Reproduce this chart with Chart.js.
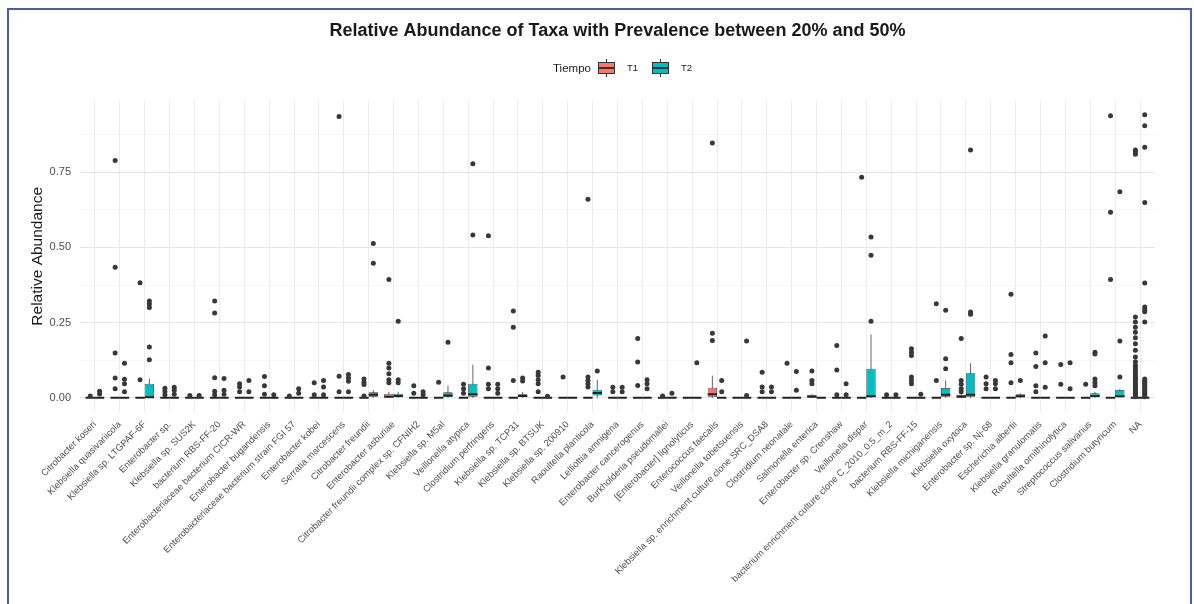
<!DOCTYPE html>
<html>
<head>
  <meta charset="utf-8">
  <title>Relative Abundance of Taxa</title>
  <style>
    body {
      margin: 0;
      background: #fff;
      overflow: hidden;
      font-family: "Liberation Sans", Arial, sans-serif;
    }

    .wrap {
      position: relative;
      width: 1194px;
      height: 604px;
    }

    canvas {
      position: absolute;
      left: 0;
      top: 0;
    }

    .frame {
      position: absolute;
      left: 7px;
      top: 8px;
      width: 1185px;
      height: 700px;
      box-sizing: border-box;
      border: 2px solid #4a5dab;
      pointer-events: none;
    }

    .legend-title {
      position: absolute;
      left: 553px;
      top: 62px;
      font-size: 11.5px;
      line-height: 13px;
      color: #1a1a1a;
    }

    .legend-label {
      position: absolute;
      top: 62px;
      font-size: 9.5px;
      line-height: 12px;
      color: #1a1a1a;
    }

    .key {
      position: absolute;
      top: 59px;
      width: 19px;
      height: 18px;
    }

    .key .whisker {
      position: absolute;
      left: 9px;
      top: 0;
      width: 1px;
      height: 18px;
      background: #333;
    }

    .key .box {
      position: absolute;
      left: 1px;
      top: 3px;
      width: 17px;
      height: 12px;
      box-sizing: border-box;
      border: 1px solid #333;
    }

    .key .median {
      position: absolute;
      left: 1px;
      top: 8px;
      width: 17px;
      height: 2px;
      background: #333;
    }
  </style>
  <script src="https://cdn.jsdelivr.net/npm/chart.js"></script>
</head>

<body>
  <div class="wrap">
    <canvas id="abundanceChart" width="1194" height="604"></canvas>
    <div class="frame"></div>

    <!-- ggplot style legend: Tiempo [T1] [T2] -->
    <span class="legend-title">Tiempo</span>
    <div class="key" style="left:597px"><div class="whisker"></div><div class="box" style="background:#F8766D"></div><div class="median"></div></div>
    <span class="legend-label" style="left:627px">T1</span>
    <div class="key" style="left:651px"><div class="whisker"></div><div class="box" style="background:#00BFC4"></div><div class="median"></div></div>
    <span class="legend-label" style="left:681px">T2</span>
  </div>

  <script>
    const categories = [
      'Citrobacter koseri', 'Klebsiella quasivariicola', 'Klebsiella sp. LTGPAF-6F', 'Enterobacter sp.',
      'Klebsiella sp. SUS2K', 'bacterium RBS-FF-20', 'Enterobacteriaceae bacterium CICR-WR',
      'Enterobacter bugandensis', 'Enterobacteriaceae bacterium strain FGI 57', 'Enterobacter kobei',
      'Serratia marcescens', 'Citrobacter freundii', 'Enterobacter asburiae',
      'Citrobacter freundii complex sp. CFNIH2', 'Klebsiella sp. M5al', 'Veillonella atypica',
      'Clostridium perfringens', 'Klebsiella sp. TCP31', 'Klebsiella sp. BTSUK', 'Klebsiella sp. 200910',
      'Raoultella planticola', 'Lelliottia amnigena', 'Enterobacter cancerogenus',
      'Burkholderia pseudomallei', '[Enterobacter] lignolyticus', 'Enterococcus faecalis',
      'Veillonella tobetsuensis', 'Klebsiella sp. enrichment culture clone SRC_DSA8',
      'Clostridium neonatale', 'Salmonella enterica', 'Enterobacter sp. Crenshaw', 'Veillonella dispar',
      'bacterium enrichment culture clone C_2010_0.5_m_2', 'bacterium RBS-FF-15',
      'Klebsiella michiganensis', 'Klebsiella oxytoca', 'Enterobacter sp. Nj-68', 'Escherichia albertii',
      'Klebsiella granulomatis', 'Raoultella ornithinolytica', 'Streptococcus salivarius',
      'Clostridium butyricum', 'NA'
    ];

    // five number summary per taxon: [lower whisker, q1, median, q3, upper whisker]
    const t1Stats = [
      [0, 0, 0, 0, 0], [0, 0, 0, 0, 0], [0, 0, 0, 0, 0], [0, 0, 0, 0, 0], [0, 0, 0, 0, 0],
      [0, 0, 0, 0, 0], [0, 0, 0, 0, 0], [0, 0, 0, 0, 0], [0, 0, 0, 0, 0], [0, 0, 0, 0, 0],
      [0, 0, 0, 0, 0], [0, 0, 0, 0, 0], [0, 0, 0.004, 0.014, 0.02], [0, 0, 0, 0, 0], [0, 0, 0, 0, 0],
      [0, 0, 0, 0, 0], [0, 0, 0, 0, 0], [0, 0, 0, 0, 0], [0, 0, 0, 0, 0], [0, 0, 0, 0, 0],
      [0, 0, 0, 0, 0], [0, 0, 0, 0, 0], [0, 0, 0, 0, 0], [0, 0, 0, 0, 0], [0, 0, 0, 0, 0],
      [0, 0.004, 0.012, 0.034, 0.074], [0, 0, 0, 0, 0], [0, 0, 0, 0, 0], [0, 0, 0, 0, 0],
      [0, 0.002, 0.004, 0.01, 0.012], [0, 0, 0, 0, 0], [0, 0, 0, 0, 0], [0, 0, 0, 0, 0],
      [0, 0, 0, 0, 0], [0, 0, 0, 0, 0], [0, 0.002, 0.004, 0.01, 0.012], [0, 0, 0, 0, 0],
      [0, 0, 0, 0, 0], [0, 0, 0, 0, 0], [0, 0, 0, 0, 0], [0, 0, 0, 0, 0], [0, 0, 0, 0, 0],
      [0, 0, 0, 0, 0]
    ];

    const t2Stats = [
      [0, 0, 0, 0, 0], [0, 0, 0, 0, 0], [0, 0, 0.002, 0.047, 0.064], [0, 0, 0, 0, 0], [0, 0, 0, 0, 0],
      [0, 0, 0, 0, 0], [0, 0, 0, 0, 0], [0, 0, 0, 0, 0], [0, 0, 0, 0, 0], [0, 0, 0, 0, 0],
      [0, 0, 0, 0, 0], [0, 0.004, 0.01, 0.019, 0.026], [0, 0, 0.006, 0.014, 0.02], [0, 0, 0, 0, 0],
      [0, 0.003, 0.008, 0.019, 0.041], [0, 0.004, 0.012, 0.047, 0.11], [0, 0, 0, 0, 0],
      [0, 0.003, 0.006, 0.012, 0.02], [0, 0, 0, 0, 0], [0, 0, 0, 0, 0], [0, 0.008, 0.016, 0.027, 0.06],
      [0, 0, 0, 0, 0], [0, 0, 0, 0, 0], [0, 0, 0, 0, 0], [0, 0, 0, 0, 0], [0, 0, 0, 0, 0],
      [0, 0, 0, 0, 0], [0, 0, 0, 0, 0], [0, 0, 0, 0, 0], [0, 0, 0, 0, 0], [0, 0, 0, 0, 0],
      [0, 0.003, 0.005, 0.097, 0.211], [0, 0, 0, 0, 0], [0, 0, 0, 0, 0], [0, 0.004, 0.01, 0.033, 0.058],
      [0, 0.004, 0.01, 0.082, 0.115], [0, 0, 0, 0, 0], [0, 0.002, 0.005, 0.012, 0.015],
      [0, 0, 0, 0, 0], [0, 0, 0, 0, 0], [0, 0.002, 0.006, 0.015, 0.02], [0, 0.003, 0.005, 0.026, 0.03],
      [0, 0, 0, 0, 0]
    ];

    const t1Outliers = [
      [0.006], [0.789, 0.434, 0.149, 0.066, 0.03], [0.383, 0.06], [0.032, 0.021, 0.01], [0.008],
      [0.322, 0.282, 0.067, 0.022, 0.01], [0.047, 0.036, 0.02], [0.071, 0.04, 0.012], [0.006],
      [0.05, 0.01], [0.935, 0.072, 0.02], [0.063, 0.052, 0.044, 0.006],
      [0.393, 0.115, 0.099, 0.08, 0.06, 0.05], [0.04, 0.015], [0.052], [0.045, 0.03, 0.015],
      [0.539, 0.099, 0.045, 0.03], [0.289, 0.235, 0.058], [0.085, 0.074, 0.06, 0.047, 0.02], [0.069],
      [0.66, 0.069, 0.058, 0.047, 0.036], [0.035, 0.02], [0.197, 0.119, 0.041], [0.006], [],
      [0.847, 0.215, 0.191], [], [0.085, 0.036, 0.02], [0.115], [0.089, 0.058, 0.047],
      [0.174, 0.093, 0.01], [0.733], [0.01], [0.163, 0.152, 0.141, 0.069, 0.058, 0.047],
      [0.313, 0.058], [0.197, 0.058, 0.045, 0.03, 0.02], [0.069, 0.047, 0.03],
      [0.344, 0.144, 0.117, 0.05], [0.149, 0.104, 0.04, 0.02], [0.111, 0.045], [0.045],
      [0.938, 0.617, 0.393],
      [0.824, 0.818, 0.81, 0.269, 0.252, 0.235, 0.218, 0.2, 0.18, 0.158, 0.136, 0.12, 0.108, 0.1,
        0.092, 0.085, 0.078, 0.071, 0.065, 0.059, 0.053, 0.047, 0.041, 0.036, 0.031, 0.026, 0.021,
        0.016, 0.012, 0.008, 0.004]
    ];

    const t2Outliers = [
      [0.022, 0.013], [0.115, 0.062, 0.047, 0.02], [0.322, 0.312, 0.3, 0.169, 0.127], [0.035, 0.025, 0.012],
      [0.008], [0.064, 0.025, 0.012], [0.058, 0.02], [0.01], [0.03, 0.015], [0.058, 0.036, 0.01],
      [0.078, 0.066, 0.055, 0.02], [0.513, 0.447], [0.255, 0.06, 0.05], [0.02, 0.01], [0.185],
      [0.778, 0.541], [0.045, 0.03, 0.015], [0.066, 0.056], [0.005], [], [0.089], [0.035, 0.02],
      [0.06, 0.047, 0.03], [0.015], [0.117], [0.058, 0.02], [0.189, 0.008], [0.036, 0.02],
      [0.088, 0.025], [], [0.047, 0.01], [0.535, 0.474, 0.255], [0.01], [0.012], [0.291, 0.13, 0.097],
      [0.824, 0.285, 0.278], [0.058, 0.047, 0.03], [0.058], [0.206, 0.117, 0.035], [0.117, 0.03],
      [0.152, 0.146, 0.063, 0.05, 0.04], [0.685, 0.189, 0.069],
      [0.941, 0.904, 0.833, 0.649, 0.382, 0.302, 0.294, 0.286, 0.252, 0.063, 0.058, 0.053, 0.048,
        0.043, 0.038, 0.033, 0.028, 0.023, 0.018, 0.013, 0.008, 0.004]
    ];

    const yLabelTicks = [0, 0.25, 0.5, 0.75];
    const yMinorTicks = [0.125, 0.375, 0.625, 0.875];

    const FONT = '"Liberation Sans", Arial, sans-serif';
    const DODGE = 0.1875; // bar width 0.375 -> centre offset of each group from the tick

    function boxData(stats) {
      return stats.map((s, i) => ({ x: i, y: [s[1], s[3]] }));
    }

    function whiskerData(stats, side) {
      const pts = [];
      stats.forEach((s, i) => {
        if (s[4] > s[3] || s[0] < s[1]) {
          const x = i + side * DODGE;
          pts.push({ x: x, y: s[0] }, { x: x, y: s[4] }, { x: x, y: null });
        }
      });
      return pts;
    }

    function medianData(stats, side) {
      const pts = [];
      stats.forEach((s, i) => {
        const x0 = side < 0 ? i - 2 * DODGE : i;
        pts.push({ x: x0, y: s[2] }, { x: x0 + 2 * DODGE, y: s[2] }, { x: x0, y: null });
      });
      return pts;
    }

    function outlierData(list, side) {
      const pts = [];
      list.forEach((vals, i) => vals.forEach(v => pts.push({ x: i + side * DODGE, y: v })));
      return pts;
    }

    const isMajor = v => yLabelTicks.some(t => Math.abs(t - v) < 1e-9);

    const ctx = document.getElementById('abundanceChart').getContext('2d');
    const chart = new Chart(ctx, {
      type: 'bar',
      data: {
        datasets: [
          {
            label: 'T1', data: boxData(t1Stats), backgroundColor: '#F8766D',
            borderColor: '#333', borderWidth: 0.8, borderSkipped: false, inflateAmount: 0, order: 2
          },
          {
            label: 'T2', data: boxData(t2Stats), backgroundColor: '#00BFC4',
            borderColor: '#333', borderWidth: 0.8, borderSkipped: false, inflateAmount: 0, order: 2
          },
          {
            type: 'line', label: 'T1 whiskers', data: whiskerData(t1Stats, -1), borderColor: '#555',
            borderWidth: 0.9, pointRadius: 0, spanGaps: false, order: 3
          },
          {
            type: 'line', label: 'T2 whiskers', data: whiskerData(t2Stats, 1), borderColor: '#555',
            borderWidth: 0.9, pointRadius: 0, spanGaps: false, order: 3
          },
          {
            type: 'line', label: 'T1 median', data: medianData(t1Stats, -1), borderColor: '#222',
            borderWidth: 2, pointRadius: 0, spanGaps: false, order: 1
          },
          {
            type: 'line', label: 'T2 median', data: medianData(t2Stats, 1), borderColor: '#222',
            borderWidth: 2, pointRadius: 0, spanGaps: false, order: 1
          },
          {
            type: 'scatter', label: 'T1 outliers', data: outlierData(t1Outliers, -1),
            backgroundColor: '#383838', borderWidth: 0, pointRadius: 2.5, order: 0
          },
          {
            type: 'scatter', label: 'T2 outliers', data: outlierData(t2Outliers, 1),
            backgroundColor: '#383838', borderWidth: 0, pointRadius: 2.5, order: 0
          }
        ]
      },
      options: {
        responsive: false,
        animation: false,
        devicePixelRatio: 1,
        events: [],
        categoryPercentage: 0.75,
        barPercentage: 1,
        layout: { padding: { left: 0, right: 39, top: 0, bottom: 0 } },
        plugins: {
          legend: { display: false },
          tooltip: { enabled: false },
          title: {
            display: true,
            fullSize: false,
            text: 'Relative Abundance of Taxa with Prevalence between 20% and 50%',
            color: '#1a1a1a',
            font: { family: FONT, size: 18, weight: 'bold' },
            padding: { top: 20, bottom: 59 }
          }
        },
        scales: {
          x: {
            type: 'linear',
            min: -0.6,
            max: 42.6,
            offset: false,
            afterBuildTicks: axis => { axis.ticks = categories.map((c, i) => ({ value: i })); },
            afterFit: axis => { axis.height = 192; },
            grid: { color: '#ebebeb', lineWidth: 1, drawTicks: false, offset: false },
            border: { display: false },
            ticks: {
              autoSkip: false,
              maxRotation: 45,
              minRotation: 45,
              padding: 7,
              color: '#4d4d4d',
              font: { family: FONT, size: 9.4 },
              callback: v => categories[v]
            }
          },
          y: {
            min: -0.047,
            max: 0.988,
            afterBuildTicks: axis => {
              axis.ticks = yLabelTicks.concat(yMinorTicks).sort((a, b) => a - b).map(v => ({ value: v }));
            },
            afterFit: axis => { axis.width = 80; },
            grid: {
              color: c => isMajor(c.tick.value) ? '#e6e6e6' : '#f3f3f3',
              lineWidth: c => isMajor(c.tick.value) ? 1 : 0.8,
              drawTicks: false
            },
            border: { display: false },
            ticks: {
              padding: 9,
              color: '#4d4d4d',
              font: { family: FONT, size: 11 },
              callback: v => isMajor(v) ? v.toFixed(2) : ''
            },
            title: {
              display: true,
              text: 'Relative Abundance',
              color: '#1a1a1a',
              font: { family: FONT, size: 15.5 },
              padding: { top: 28, bottom: 0 }
            }
          }
        }
      }
    });
  </script>
</body>

</html>
